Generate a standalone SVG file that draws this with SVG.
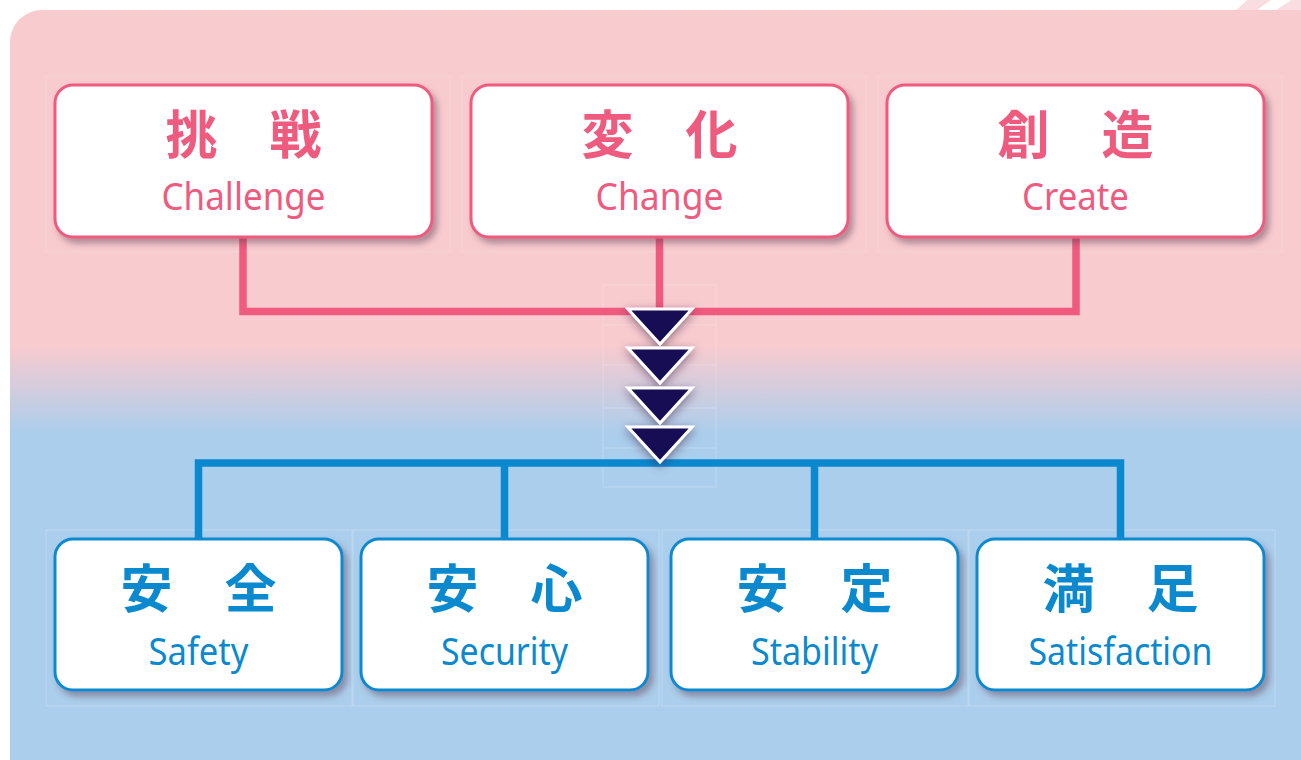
<svg xmlns="http://www.w3.org/2000/svg" width="1301" height="760" viewBox="0 0 1301 760">
<defs>
<linearGradient id="bg" x1="0" y1="0" x2="0" y2="1" gradientUnits="objectBoundingBox">
<stop offset="0" stop-color="#F8CBCF"/>
<stop offset="0.42" stop-color="#F8CBCF"/>
<stop offset="0.53" stop-color="#ABCEEC"/>
<stop offset="1" stop-color="#ABCEEC"/>
</linearGradient>
<filter id="sh" x="-10%" y="-10%" width="130%" height="140%">
<feDropShadow dx="4" dy="5" stdDeviation="3" flood-color="#5a3a50" flood-opacity="0.45"/>
</filter>
<filter id="ash" x="-40%" y="-40%" width="180%" height="180%">
<feDropShadow dx="0" dy="3" stdDeviation="5" flood-color="#3a1a40" flood-opacity="0.55"/>
</filter>
<polygon id="tri" points="-32,0 32,0 0,35"/>
</defs>
<style>
.pbox{fill:#fff;stroke:#F05A7E;stroke-width:3}
.bbox{fill:#fff;stroke:#0A89CF;stroke-width:3}
.frame{fill:none;stroke:#ffffff;stroke-opacity:0.22;stroke-width:1}
.jp{font-family:"Noto Sans CJK JP","Noto Sans",sans-serif;font-weight:bold;font-size:52px;text-anchor:middle}
.en{font-family:"Noto Sans","Liberation Sans",sans-serif;font-size:39px;text-anchor:middle}
.pt{fill:#EF5B7F}
.bt{fill:#0A89CF}
.arrow{fill:#130A55;stroke:#fff;stroke-width:3;stroke-linejoin:miter}
</style>
<rect width="1301" height="760" fill="#fff"/>
<g id="swoosh" fill="none" stroke="#FADDE0" stroke-width="14">
<path d="M1228,30 Q1260,-10 1301,-20"/>
<path d="M1270,25 Q1290,5 1320,-5"/>
</g>
<rect id="panel" x="10" y="10" width="1320" height="800" rx="32" ry="32" fill="url(#bg)"/>

<g id="frames" class="frame">
<rect x="46" y="76" width="404" height="176"/>
<rect x="462" y="76" width="404" height="176"/>
<rect x="878" y="76" width="404" height="176"/>
<rect x="46" y="530" width="306" height="176"/>
<rect x="353" y="530" width="306" height="176"/>
<rect x="662" y="530" width="306" height="176"/>
<rect x="969" y="530" width="306" height="176"/>
<rect x="603" y="285" width="113" height="202"/>
<path d="M603,325 H716 M603,365 H716 M603,408 H716 M603,448 H716"/>
</g>

<g id="connectors">
<path d="M243,237 V311.5 H1076 V237 M659.5,237 V311.5" fill="none" stroke="#F05A7E" stroke-width="7.5"/>
<path d="M198.5,539 V463 H1120.5 V539 M504.5,463 V539 M814.5,463 V539" fill="none" stroke="#0A89CF" stroke-width="7.5"/>
</g>

<g id="arrows" filter="url(#ash)">
<use href="#tri" class="arrow" x="660" y="309"/>
<use href="#tri" class="arrow" x="660" y="348"/>
<use href="#tri" class="arrow" x="660" y="388"/>
<use href="#tri" class="arrow" x="660" y="427"/>
</g>

<g id="node-challenge">
<rect class="pbox" x="55" y="85" width="377" height="152" rx="18" filter="url(#sh)"/>
<text class="jp pt" x="243.5" y="154">挑　戦</text>
<text class="en pt" x="243.5" y="210" textLength="164" lengthAdjust="spacingAndGlyphs">Challenge</text>
</g>
<g id="node-change">
<rect class="pbox" x="471" y="85" width="377" height="152" rx="18" filter="url(#sh)"/>
<text class="jp pt" x="659.5" y="154">変　化</text>
<text class="en pt" x="659.5" y="210" textLength="128" lengthAdjust="spacingAndGlyphs">Change</text>
</g>
<g id="node-create">
<rect class="pbox" x="887" y="85" width="377" height="152" rx="18" filter="url(#sh)"/>
<text class="jp pt" x="1075.5" y="154">創　造</text>
<text class="en pt" x="1075.5" y="210" textLength="107" lengthAdjust="spacingAndGlyphs">Create</text>
</g>

<g id="node-safety">
<rect class="bbox" x="55" y="539" width="287" height="151" rx="18" filter="url(#sh)"/>
<text class="jp bt" x="198.5" y="608">安　全</text>
<text class="en bt" x="198.5" y="665" textLength="100" lengthAdjust="spacingAndGlyphs">Safety</text>
</g>
<g id="node-security">
<rect class="bbox" x="361" y="539" width="287" height="151" rx="18" filter="url(#sh)"/>
<text class="jp bt" x="504.5" y="608">安　心</text>
<text class="en bt" x="504.5" y="665" textLength="127" lengthAdjust="spacingAndGlyphs">Security</text>
</g>
<g id="node-stability">
<rect class="bbox" x="671" y="539" width="287" height="151" rx="18" filter="url(#sh)"/>
<text class="jp bt" x="814.5" y="608">安　定</text>
<text class="en bt" x="814.5" y="665" textLength="127" lengthAdjust="spacingAndGlyphs">Stability</text>
</g>
<g id="node-satisfaction">
<rect class="bbox" x="977" y="539" width="287" height="151" rx="18" filter="url(#sh)"/>
<text class="jp bt" x="1120.5" y="608">満　足</text>
<text class="en bt" x="1120.5" y="665" textLength="184" lengthAdjust="spacingAndGlyphs">Satisfaction</text>
</g>
</svg>
